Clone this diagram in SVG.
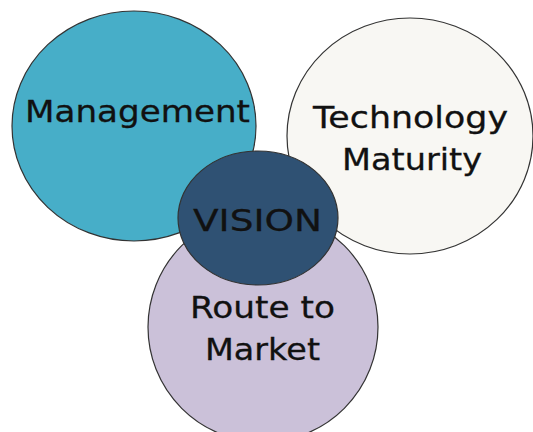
<svg xmlns="http://www.w3.org/2000/svg" width="533" height="432" viewBox="0 0 533 432">
  <style>
    .ring { stroke: #333333; stroke-width: 1.2; }
    .label { font-family: "DejaVu Sans", Verdana, sans-serif; font-size: 31px; fill: #111111; stroke: #111111; stroke-width: 0.3; }
  </style>
  <rect width="533" height="432" fill="#ffffff"/>
  <g id="route-to-market">
    <ellipse class="ring" cx="263" cy="327" rx="115" ry="115" fill="#cbc1d9"/>
    <text class="label" x="190" y="318" textLength="145" lengthAdjust="spacingAndGlyphs">Route to</text>
    <text class="label" x="205" y="360" textLength="115" lengthAdjust="spacingAndGlyphs">Market</text>
  </g>
  <g id="management">
    <ellipse class="ring" cx="134" cy="126" rx="122" ry="115" fill="#47aec8"/>
    <text class="label" x="25" y="122" textLength="225" lengthAdjust="spacingAndGlyphs">Management</text>
  </g>
  <g id="technology-maturity">
    <ellipse class="ring" cx="410" cy="136" rx="123" ry="118" fill="#f8f7f3"/>
    <text class="label" x="313" y="128" textLength="195" lengthAdjust="spacingAndGlyphs">Technology</text>
    <text class="label" x="342" y="170" textLength="140" lengthAdjust="spacingAndGlyphs">Maturity</text>
  </g>
  <g id="vision">
    <ellipse class="ring" cx="258" cy="218" rx="80" ry="67" fill="#2f5173"/>
    <text class="label" x="193" y="231" textLength="129" lengthAdjust="spacingAndGlyphs">VISION</text>
  </g>
</svg>
